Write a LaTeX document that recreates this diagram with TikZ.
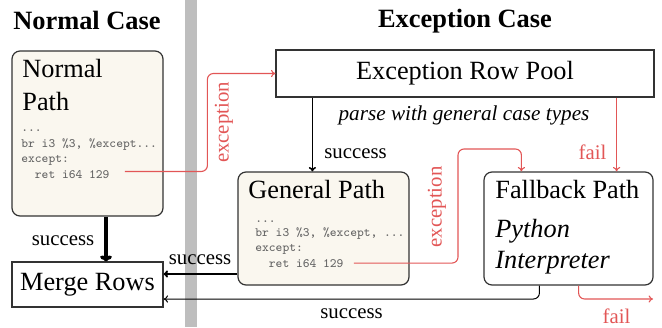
\documentclass[tikz,border=0pt]{standalone}
\usepackage{fontspec}
\setmainfont{Liberation Serif}
\newfontfamily\serifA{Liberation Serif}
\usetikzlibrary{arrows.meta}
\definecolor{cream}{RGB}{250,247,239}
\definecolor{myred}{RGB}{226,86,86}
\definecolor{codegray}{RGB}{100,100,100}
\definecolor{bargray}{RGB}{190,190,190}
\newcommand\mainsz{\serifA\fontsize{13.15pt}{16pt}\selectfont}
\newcommand\lblsz{\serifA\fontsize{10.4pt}{12pt}\selectfont}
\newcommand\codesz{\ttfamily\fontsize{6.38pt}{7.5pt}\selectfont}
\begin{document}
\begin{tikzpicture}[x=0.5pt,y=-0.5pt,
  box/.style={draw=black!80, line width=0.6pt, inner sep=0pt, fill=white},
  pathbox/.style={box, rounded corners=4pt, fill=cream},
  txt/.style={inner sep=0pt, anchor=base west, font=\mainsz},
  codeln/.style={inner sep=0pt, anchor=base west, font=\codesz, text=codegray},
  lbl/.style={inner sep=0pt, anchor=base, font=\lblsz},
  redlbl/.style={lbl, text=myred},
  title/.style={inner sep=0pt, anchor=base, font=\serifA\fontsize{13.2pt}{16pt}\selectfont\bfseries},
  redarr/.style={draw=myred, line width=0.55pt, rounded corners=3pt, -{To[length=2.2pt,width=3.6pt]}},
  blkarr/.style={draw=black, -{To[length=2.2pt,width=3.6pt]}}
]
\useasboundingbox (0,0) rectangle (662,327);
\fill[bargray] (185,0) rectangle (197,327);

% titles
\node[title] (t1) at (87,29) {Normal Case};
\node[title] (t2) at (465,27) {Exception Case};

% boxes
\node[pathbox, minimum width=75.5pt, minimum height=82.5pt] (np) at (87.5,133.5) {};
\node[box, minimum width=75.5pt, minimum height=22.5pt, font=\mainsz] (mr) at (87.5,284.5) {Merge Rows};
\node[box, minimum width=189pt, minimum height=23.5pt, font=\mainsz] (erp) at (465,73.5) {Exception Row Pool};
\node[pathbox, minimum width=85.5pt, minimum height=56.5pt] (gp) at (323.5,228.5) {};
\node[box, rounded corners=4pt, minimum width=84.5pt, minimum height=56.5pt] (fb) at (568.5,228.5) {};

% normal path text
\node[txt] (npt1) at (22,77) {Normal};
\node[txt] (npt2) at (22,110) {Path};
\node[codeln] (npc1) at (21,131) {...};
\node[codeln] (npc2) at (21,147) {br i3 \%3, \%except...};
\node[codeln] (npc3) at (21,162) {except:};
\node[codeln] (ret1) at (21,178) {\ \ ret i64 129};

% general path text
\node[txt] (gpt) at (248,198) {General Path};
\node[codeln] (gpc1) at (255,222) {...};
\node[codeln] (gpc2) at (255,236) {br i3 \%3, \%except, ...};
\node[codeln] (gpc3) at (255,251.5) {except:};
\node[codeln] (ret2) at (255,267) {\ \ ret i64 129};

% fallback text
\node[txt] (fbt1) at (495,198) {Fallback Path};
\node[txt, font=\mainsz\itshape] (fbt2) at (495,237) {Python};
\node[txt, font=\mainsz\itshape] (fbt3) at (495,268) {Interpreter};

% italic note
\node[inner sep=0pt, anchor=base, font=\serifA\fontsize{10.6pt}{12pt}\selectfont\itshape] (note) at (464,120) {parse with general case types};

% coordinates
\coordinate (c2) at (458,149);
\coordinate (failend) at (653,299);

% black connectors
\draw[blkarr, line width=1.8pt, -{To[length=3pt,width=6pt]}] ([xshift=9.25pt]np.south) -- ([xshift=9.25pt]np.south |- mr.north);
\draw[blkarr, line width=1pt] ([yshift=-22.75pt]gp.west) -- ([yshift=-22.75pt]gp.west -| mr.east);
\draw[blkarr, line width=0.8pt] ([xshift=18.5pt]erp.south west) -- ([xshift=18.5pt]erp.south west |- gp.north);
\draw[blkarr, line width=0.5pt, rounded corners=3pt] ([xshift=28pt]fb.south west) |- ([yshift=-7.25pt]mr.east);

% red connectors
\draw[redarr] ([xshift=7.5pt,yshift=1.3pt]ret1.east) -| ([xshift=-34pt]erp.west) -- (erp.west);
\draw[redarr] ([xshift=5pt]ret2.east) -| (c2) -| ([xshift=19pt]fb.north west);
\draw[redarr] ([xshift=-19pt]erp.south east) -- ([xshift=-19pt]erp.south east |- fb.north);
\draw[redarr] ([xshift=-37.5pt]fb.south east) |- (failend);

% labels
\node[lbl] (l1) at (63,245) {success};
\node[lbl] (l2) at (200,264) {success};
\node[lbl] (l3) at (355.5,158) {success};
\node[lbl] (l4) at (351.5,318) {success};
\node[redlbl] (l5) at (592.5,159) {fail};
\node[redlbl] (l6) at (616.5,323) {fail};
\node[redlbl, rotate=90] (l7) at (228.5,122.5) {exception};
\node[redlbl, rotate=90] (l8) at (441.5,207) {exception};
\end{tikzpicture}
\end{document}
